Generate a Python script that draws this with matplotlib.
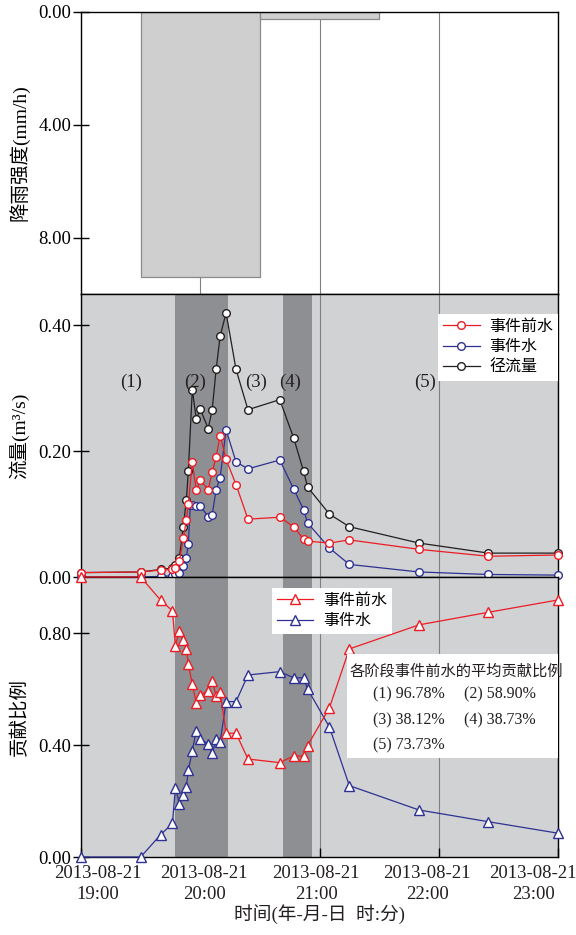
import matplotlib
matplotlib.use('Agg')
import matplotlib.pyplot as plt
import matplotlib.dates as mdates
import pandas as pd
from matplotlib.patches import Rectangle
from matplotlib.lines import Line2D

plt.rcParams['font.family'] = ['Liberation Serif', 'Noto Sans CJK SC']
plt.rcParams['axes.unicode_minus'] = False

# ---------------- data ----------------
DAY = "2013-08-21 "
times = ["19:00", "19:30", "19:40", "19:46", "19:47:30", "19:49:30", "19:51:30",
         "19:53", "19:54", "19:56", "19:58", "20:00", "20:04", "20:06", "20:08",
         "20:10", "20:13", "20:18", "20:24", "20:40", "20:47", "20:52", "20:54",
         "21:05", "21:15", "21:50", "22:25", "23:00"]
# flow (m3/s)
pre_event_q = [0.007, 0.008, 0.011, 0.012, 0.015, 0.025, 0.062, 0.090, 0.116, 0.183,
               0.138, 0.154, 0.139, 0.167, 0.191, 0.225, 0.187, 0.147, 0.092, 0.095,
               0.080, 0.060, 0.057, 0.054, 0.059, 0.044, 0.033, 0.035]
event_times = ["19:00", "19:30", "19:40", "19:46", "19:47:30", "19:49:30", "19:51:30",
               "19:53", "19:54", "19:55", "19:56", "19:58", "20:00", "20:04", "20:06",
               "20:08", "20:10", "20:13", "20:18", "20:24", "20:40", "20:47", "20:52",
               "20:54", "21:05", "21:15", "21:50", "22:25", "23:00"]
event_q = [0.0, 0.0, 0.001, 0.002, 0.004, 0.006, 0.018, 0.031, 0.052, 0.114, 0.114,
           0.113, 0.113, 0.096, 0.099, 0.139, 0.158, 0.234, 0.183, 0.172, 0.186,
           0.140, 0.107, 0.086, 0.046, 0.020, 0.008, 0.004, 0.003]
runoff_q = [0.007, 0.008, 0.012, 0.014, 0.019, 0.031, 0.080, 0.122, 0.168, 0.298,
            0.251, 0.267, 0.236, 0.266, 0.330, 0.383, 0.420, 0.330, 0.266, 0.282,
            0.221, 0.168, 0.143, 0.100, 0.080, 0.054, 0.038, 0.038]
# contribution ratio
pre_event_ratio = [1.0, 1.0, 0.918, 0.879, 0.754, 0.807, 0.774, 0.743, 0.689, 0.617,
                   0.550, 0.579, 0.594, 0.629, 0.576, 0.590, 0.442, 0.442, 0.350, 0.337,
                   0.361, 0.361, 0.398, 0.533, 0.743, 0.829, 0.874, 0.918]
event_ratio = [0.0, 0.0, 0.079, 0.120, 0.248, 0.191, 0.220, 0.250, 0.310, 0.380,
               0.450, 0.420, 0.405, 0.370, 0.420, 0.410, 0.555, 0.555, 0.650, 0.662,
               0.640, 0.640, 0.600, 0.464, 0.255, 0.168, 0.126, 0.085]
# rainfall (mm/h), hourly blocks
rain_start = ["19:30", "20:30"]
rain_rate = [9.4, 0.26]
# stages
stage_names = ["(1)", "(2)", "(3)", "(4)", "(5)"]
stage_pct = [96.78, 58.90, 38.12, 38.73, 73.73]
dark_stages = [("19:47:30", "20:14"), ("20:41:30", "20:56")]
hour_ticks = ["19:00", "20:00", "21:00", "22:00", "23:00"]
series_labels = ["事件前水", "事件水", "径流量"]

# ---------------- style ----------------
RED = '#ec1c24'
BLUE = '#2e3192'
BLACK = '#231f20'
LIGHT = '#d1d2d4'
DARK = '#8e8f92'
GRID = '#808080'


def T(s):
    return pd.to_datetime(DAY + s)


t = [T(s) for s in times]
te = [T(s) for s in event_times]

fig = plt.figure(figsize=(5.76, 9.35), dpi=100)
L, R = 81 / 576, 558 / 576


def fy(y):
    return 1 - y / 935


ax1 = fig.add_axes([L, fy(294), R - L, fy(12) - fy(294)])
ax2 = fig.add_axes([L, fy(577), R - L, fy(294) - fy(577)], sharex=ax1)
ax3 = fig.add_axes([L, fy(857), R - L, fy(577) - fy(857)], sharex=ax1)

for ax in (ax1, ax2, ax3):
    ax.set_axisbelow(True)
    ax.grid(axis='x', color=GRID, lw=0.8)
    ax.grid(axis='y', visible=False)
    for sp in ax.spines.values():
        sp.set_linewidth(1.0)
        sp.set_color('black')
    ax.tick_params(axis='y', direction='inout', length=12, width=1,
                   labelsize=13.5, pad=1, colors='black')

# ---- top: rainfall ----
ax1.bar([T(s) for s in rain_start], rain_rate, width=1 / 24, align='edge',
        color='#cfcfcf', edgecolor='#8a8a8a', linewidth=0.9, zorder=2)
ax1.set_ylim(10, 0)
ax1.set_yticks([0, 4, 8])
ax1.yaxis.set_major_formatter(matplotlib.ticker.FormatStrFormatter('%.2f'))
ax1.set_ylabel('降雨强度(mm/h)', fontsize=14)
ax1.tick_params(axis='x', bottom=False, labelbottom=False)

# ---- middle: flow ----
for ax in (ax2, ax3):
    ax.set_facecolor(LIGHT)
    for a, b in dark_stages:
        ax.axvspan(T(a), T(b), color=DARK, lw=0, zorder=0.8)

mk = dict(marker='o', ms=5.5, mfc='white', mew=1.0, lw=0.9, clip_on=False)
ax2.plot(t, runoff_q, color=BLACK, mec=BLACK, zorder=3, **mk)
ax2.plot(te, event_q, color=BLUE, mec=BLUE, zorder=3, **mk)
ax2.plot(t, pre_event_q, color=RED, mec=RED, zorder=3, **mk)
ax2.set_ylim(0, 0.45)
ax2.set_yticks([0, 0.2, 0.4])
ax2.yaxis.set_major_formatter(matplotlib.ticker.FormatStrFormatter('%.2f'))
ax2.set_ylabel('流量(m³/s)', fontsize=14)
ax2.tick_params(axis='x', bottom=False, labelbottom=False)

handles = [Line2D([], [], color=c, marker='o', ms=5.5, mfc='white', mec=c, mew=1.0, lw=0.9)
           for c in (RED, BLUE, BLACK)]
leg = ax2.legend(handles, series_labels, loc='upper right',
                 bbox_to_anchor=(1.0, 1 - 20 / 283), borderaxespad=0,
                 fancybox=False, framealpha=1, edgecolor='none', fontsize=11.5,
                 handlelength=2.3, handletextpad=0.6, labelspacing=0.28,
                 borderpad=0.3)
leg.set_zorder(10)

stage_label_times = ["19:25", "19:57:30", "20:28", "20:45", "21:53"]
for s, name in zip(stage_label_times, stage_names):
    ax2.text(T(s), 0.31, name, fontsize=13.5, ha='center', va='center', color=BLACK, zorder=4)

# ---- bottom: ratio ----
mk3 = dict(marker='^', ms=6.5, mfc='white', mew=1.0, lw=0.9, clip_on=False)
ax3.plot(t, event_ratio, color=BLUE, mec=BLUE, zorder=3, **mk3)
ax3.plot(t, pre_event_ratio, color=RED, mec=RED, zorder=3, **mk3)
ax3.set_ylim(0, 1.0)
ax3.set_yticks([0, 0.4, 0.8])
ax3.yaxis.set_major_formatter(matplotlib.ticker.FormatStrFormatter('%.2f'))
ax3.set_ylabel('贡献比例', fontsize=14)

handles3 = [Line2D([], [], color=c, marker='^', ms=6.5, mfc='white', mec=c, mew=1.0, lw=0.9)
            for c in (RED, BLUE)]
leg3 = ax3.legend(handles3, series_labels[:2], loc='upper left',
                  bbox_to_anchor=(0.40, 0.961), borderaxespad=0,
                  fancybox=False, framealpha=1, edgecolor='none', fontsize=11.5,
                  handlelength=2.3, handletextpad=0.6, labelspacing=0.28,
                  borderpad=0.3)
leg3.set_zorder(10)

ax3.add_patch(Rectangle((0.558, 0.354), 0.442, 0.371, transform=ax3.transAxes,
                        facecolor='white', edgecolor='none', zorder=8))
ax3.text(0.564, 0.662, '各阶段事件前水的平均贡献比例', transform=ax3.transAxes,
         fontsize=11, ha='left', va='center', zorder=9, color=BLACK)
cols = [0.6115, 0.8036]
rows = [0.579, 0.487, 0.398]
for i, (name, p) in enumerate(zip(stage_names, stage_pct)):
    ax3.text(cols[i % 2], rows[i // 2], f'{name} {p:.2f}%', transform=ax3.transAxes,
             fontsize=11.5, ha='left', va='center', zorder=9, color=BLACK)

# x axis: ticks at whole hours; labels placed as in the original (slightly compressed)
ax3.set_xlim(T(hour_ticks[0]), T(hour_ticks[-1]))
ax3.set_xticks([T(h) for h in hour_ticks])
ax3.tick_params(axis='x', direction='in', length=6.5, width=1, labelbottom=False)
label_x = [0.0356, 0.258, 0.4927, 0.7254, 0.9476]
for xf, h in zip(label_x, hour_ticks):
    ax3.text(xf, -0.03, T(h).strftime('%Y-%m-%d\n%H:%M'), transform=ax3.transAxes,
             ha='center', va='top', fontsize=13.5, linespacing=1.3, color=BLACK)
ax3.text(0.5, -0.205, '时间(年-月-日  时:分)', transform=ax3.transAxes,
         ha='center', va='center', fontsize=13.5, color=BLACK)

for ax in (ax1, ax2, ax3):
    ax.yaxis.set_label_coords(-0.108, 0.5)

fig.savefig('out.png', dpi=100)
